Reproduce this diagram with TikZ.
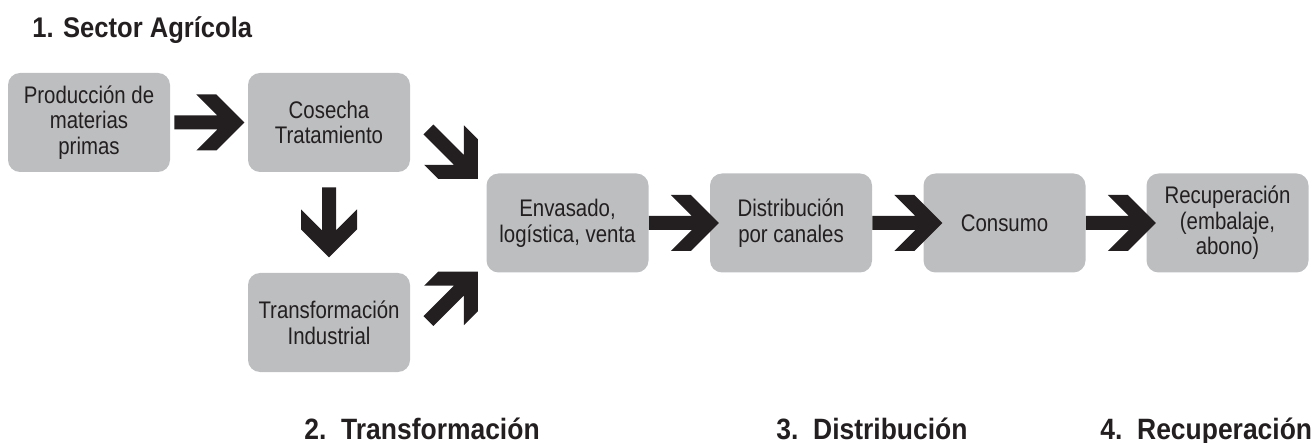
\documentclass[tikz,border=0pt]{standalone}
\usepackage{fontspec}
\setmainfont[FakeStretch=0.9]{Liberation Sans}
\newfontfamily\stagefont[FakeStretch=0.85]{Liberation Sans}
\usepackage{tikz}
\usetikzlibrary{arrows,shapes,calc}
\definecolor{boxgray}{HTML}{BCBEC0}
\definecolor{inkblack}{HTML}{231F20}
\tikzstyle{stage}=[rectangle,rounded corners=6pt,fill=boxgray,text=inkblack,minimum width=81pt,minimum height=49.5pt,inner sep=0pt,align=center,font=\stagefont\fontsize{12}{12.8}\selectfont]
\tikzstyle{phase}=[anchor=base west,inner sep=0pt,text=inkblack,font=\bfseries\fontsize{14.7}{16}\selectfont]
\newcommand{\fatarrow}[2]{%
	\fill[inkblack,shift={#1},rotate=#2] (0,-7) -- (43,-7) -- (22,-28) -- (42,-28) -- (70,0) -- (42,28) -- (22,28) -- (43,7) -- (0,7) -- cycle;}

\begin{document}
\begin{tikzpicture}[x=0.5pt,y=-0.5pt]
		\useasboundingbox (0,0) rectangle (1312,443);
		\node[phase,font=\bfseries\fontsize{14.2}{15}\selectfont] (sector) at (32,38) {1. Sector Agrícola};
		% top
		\node[stage] (prod) at (89,122.5) {Producción de\\materias\\primas};
		\node[stage] (cosecha) at (329,122.5) {Cosecha\\Tratamiento};
		% bottom
		\node[stage] (transf) at (329,322.5) {Transformación\\Industrial};
		% middle
		\node[stage] (envasado) at (567.5,223) {Envasado,\\logística, venta};
		\node[stage] (distrib) at (791,223) {Distribución\\por canales};
		\node[stage] (consumo) at (1004.5,223) {Consumo};
		\node[stage] (recup) at (1227.5,223) {Recuperación\\(embalaje,\\abono)};
		% connection
		\fatarrow{($(prod.east)+(4,0)$)}{0}
		\fatarrow{($(cosecha.south)+(0,15)$)}{-90}
		\fatarrow{($(cosecha.east)+(18,7)$)}{-45}
		\fatarrow{($(transf.east)+(18,-1.5)$)}{45}
		\fatarrow{(envasado.east)}{0}
		\fatarrow{(distrib.east)}{0}
		\fatarrow{(consumo.east)}{0}
		% phases
		\node[phase] (ph2) at (304,439) {2.\enspace Transformación};
		\node[phase] (ph3) at (776,439) {3.\enspace Distribución};
		\node[phase] (ph4) at (1100,439) {4.\enspace Recuperación};
	\end{tikzpicture}
\end{document}
